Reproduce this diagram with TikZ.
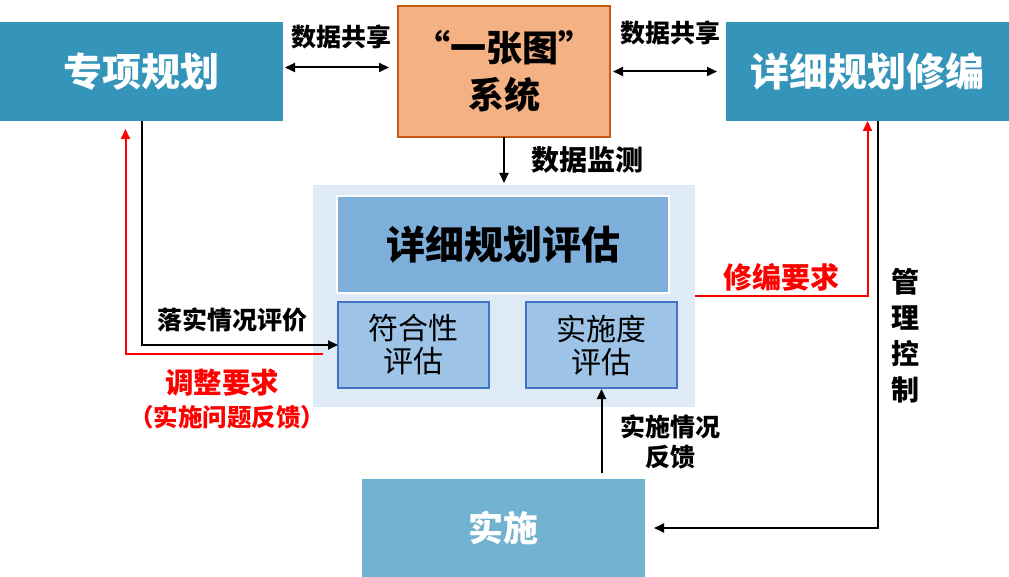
\documentclass[tikz,border=0pt]{standalone}
\usepackage{fontspec}
\setmainfont{Noto Sans CJK SC}
\usetikzlibrary{arrows.meta,calc}
\definecolor{bluebox}{RGB}{53,148,186}
\definecolor{implbox}{RGB}{113,179,208}
\definecolor{sysfill}{RGB}{244,177,131}
\definecolor{sysdraw}{RGB}{197,90,17}
\definecolor{panelfill}{RGB}{222,235,247}
\definecolor{evalfill}{RGB}{125,175,218}
\definecolor{subfill}{RGB}{157,195,230}
\definecolor{subdraw}{RGB}{68,114,196}
\definecolor{redline}{RGB}{255,0,0}
\begin{document}
\begin{tikzpicture}[x=1pt,y=-1pt,
 box/.style={anchor=north west, inner sep=0pt, outer sep=0pt, align=center},
 arr/.style={line width=2pt, -{Triangle[length=10pt,width=9pt]}},
 darr/.style={line width=2pt, {Triangle[length=10pt,width=9pt]}-{Triangle[length=10pt,width=9pt]}},
 lbl/.style={font=\bfseries\fontsize{25}{30}\selectfont, inner sep=0pt, align=center},
 redlbl/.style={lbl, text=redline},
 bigtxt/.style={font=\bfseries\fontsize{39}{44}\selectfont},
]
\useasboundingbox (0,0) rectangle (1009,577);
% boxes
\node[box, fill=bluebox, minimum width=283pt, minimum height=99pt, text=white, bigtxt] (zx) at (0,22) {专项规划};
\node[box, fill=sysfill, draw=sysdraw, line width=2pt, minimum width=212pt, minimum height=131pt, font=\bfseries\fontsize{36}{47}\selectfont] (sys) at (398,6) {“一张图”\\系统};
\node[box, fill=bluebox, minimum width=283pt, minimum height=99pt, text=white, bigtxt] (xb) at (726,22) {详细规划修编};
\node[box, fill=panelfill, minimum width=382pt, minimum height=222pt] (panel) at (313,185) {};
\node[box, fill=evalfill, draw=white, line width=2pt, minimum width=332pt, minimum height=97pt, bigtxt] (pg) at (337,196) {详细规划评估};
\node[box, fill=subfill, draw=subdraw, line width=1.5pt, minimum width=151pt, minimum height=86pt, font=\fontsize{30}{33}\selectfont] (fh) at (338,302) {符合性\\评估};
\node[box, fill=subfill, draw=subdraw, line width=1.5pt, minimum width=151pt, minimum height=86pt, font=\fontsize{30}{33}\selectfont] (ss) at (526,302) {实施度\\评估};
\node[box, fill=implbox, minimum width=283pt, minimum height=98pt, text=white, font=\bfseries\fontsize{35}{40}\selectfont] (impl) at (362,479) {实施};
% connectors
\draw[darr] ([shift={(2,-4)}]zx.east) -- ([shift={(-9,-4)}]sys.west);
\draw[darr] ([shift={(3,0)}]sys.east) -- ([shift={(-9,0)}]xb.east -| xb.west);
\draw[arr, shorten >=2pt] (sys.south) -- (sys.south |- panel.north);
\draw[arr] (zx.south) |- (fh.west);
\coordinate (rs) at (323,354);
\draw[arr, redline] (rs) -| ([shift={(-16,8)}]zx.south);
\draw[arr, redline] (panel.east) -| (xb.south);
\draw[arr] ([xshift=10pt]xb.south) |- ([xshift=9pt]impl.east);
\draw[arr] ($(impl.north -| ss.south)+(0,-6)$) -- ([yshift=-1pt]ss.south);
% labels
\node[lbl] (l1) at (341,37) {数据共享};
\node[lbl] (l2) at (670,33) {数据共享};
\node[lbl, font=\bfseries\fontsize{28}{30}\selectfont] (l3) at (587,160) {数据监测};
\node[lbl] (l4) at (232,320) {落实情况评价};
\node[redlbl, font=\bfseries\fontsize{28.5}{30}\selectfont] (l5) at (222,383) {调整要求};
\node[redlbl, font=\bfseries\fontsize{24.5}{28}\selectfont] (l6) at (227,417) {（实施问题反馈）};
\node[redlbl, font=\bfseries\fontsize{29}{30}\selectfont] (l7) at (781,277) {修编要求};
\node[lbl, font=\bfseries\fontsize{28}{36}\selectfont] (l8) at (905,336) {管\\理\\控\\制};
\node[lbl] (l9) at (670,442) {实施情况\\反馈};
\end{tikzpicture}
\end{document}
